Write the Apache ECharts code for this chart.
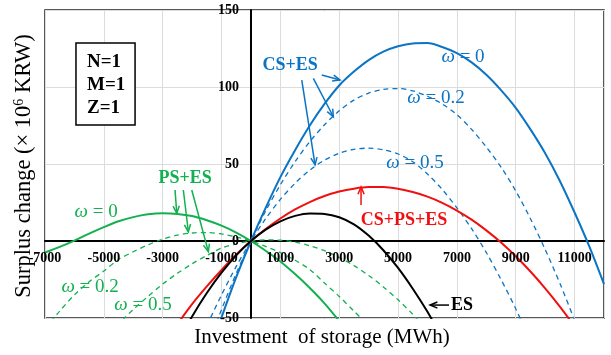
<!DOCTYPE html>
<html><head><meta charset="utf-8">
<script src="https://cdn.jsdelivr.net/npm/echarts@6.0.0/dist/echarts.min.js"></script>
<style>html,body{margin:0;padding:0;background:#fff}#c{width:611px;height:355px}</style>
</head><body><div id="c"></div>
<script>
// ---- axis ticks ----
const xTicks = [-7000,-5000,-3000,-1000,1000,3000,5000,7000,9000,11000];
const yTicks = [-50,0,50,100,150];
const xRange = [-7000, 12000];

// ---- CS+ES (blue) ----
const csEsW0X = [-1500,-1000,-500,0,500,1000,1500,2000,2500,3000,3500,4000,4500,5000,5500,6000,6500,7000,7500,8000,8500,9000,9500,10000,10500,11000,11500,12000];
const csEsW0Y = [-76,-49.5,-23.5,0,21.5,41.5,59,75,89,101,110,117.5,123,126.5,128.3,128.5,126,122,116,108,98,86.5,72.5,57,39,18.5,-3.5,-28];
const csEsW02X = [-1500,-1000,-500,0,500,1000,1500,2000,2500,3000,3500,4000,4500,5000,5500,6000,6500,7000,7500,8000,8500,9000,9500,10000,10500,11000,11500];
const csEsW02Y = [-69.5,-44.5,-21,0,19.5,36.5,51.5,64.5,75.5,84.5,91.5,96,98.5,99,97.5,94,89,82,72.5,61,48,32.5,14.5,-5.5,-27.5,-51.5,-77];
const csEsW05X = [-1500,-1000,-500,0,500,1000,1500,2000,2500,3000,3500,4000,4500,5000,5500,6000,6500,7000,7500,8000,8500,9000,9500];
const csEsW05Y = [-55,-35,-16.5,0,14.5,27,37.5,46,52.5,57,59.5,60.3,59.2,56.5,51.5,43.5,33.5,21.5,8,-7.5,-25,-44,-65];

// ---- CS+PS+ES (red) ----
const csPsEsX = [-2500,-2000,-1500,-1000,-500,0,500,1000,1500,2000,2500,3000,3500,4000,4500,5000,5500,6000,6500,7000,7500,8000,8500,9000,9500,10000,10500,11000];
const csPsEsY = [-54,-41,-29.5,-18.8,-8.8,0,7.8,14.6,20.5,25.3,29.2,32.1,34,35,35,33.9,31.8,28.8,24.8,19.8,13.9,6.9,-1,-9.9,-19.8,-30.7,-42.6,-55.4];

// ---- ES (black) ----
const esX = [-2500,-2000,-1500,-1000,-500,0,500,1000,1500,2000,2500,3000,3500,4000,4500,5000,5500,6000,6500];
const esY = [-66,-49,-33.8,-20.6,-9.3,0,7.4,12.8,16.3,17.9,17.6,15.4,10.8,3.5,-6,-17.5,-31,-46,-63];

// ---- PS+ES (green) ----
const psEsW0X = [-7000,-6500,-6000,-5500,-5000,-4500,-4000,-3500,-3000,-2500,-2000,-1500,-1000,-500,0,500,1000,1500,2000,2500,3000];
const psEsW0Y = [-7.5,-3.8,0.3,4.8,9,12.8,15.5,17.3,18,17.6,16.2,13.5,10,5.5,0,-6.3,-13.3,-21.5,-30.5,-40.5,-52];
const psEsW02X = [-7000,-6500,-6000,-5500,-5000,-4500,-4000,-3500,-3000,-2500,-2000,-1500,-1000,-500,0,500,1000,1500,2000,2500,3000,3500,4000];
const psEsW02Y = [-57,-45.5,-35,-26.5,-19.5,-12,-7,-2.5,1.2,3.8,5.2,5.5,4.6,2.6,0,-3.5,-7.5,-12.5,-18.5,-27.3,-36,-45.5,-55];
const psEsW05X = [-5000,-4500,-4000,-3500,-3000,-2500,-2000,-1500,-1000,-500,0,500,1000,1500,2000,2500,3000,3500,4000,4500,5000,5500,6000];
const psEsW05Y = [-64,-54,-44.5,-36,-28,-21,-14.8,-9.4,-4.6,-1.8,0,0.8,0.5,-0.7,-3.1,-6.3,-10.7,-16,-22.4,-29.8,-38.2,-47.6,-58];

// ---- annotation texts (data coordinates) ----
const annTexts = ['CS+ES','0','0.2','0.5','PS+ES','0','0.2','0.5','CS+PS+ES','ES'];
const annX = [1329,7209,6291,5577,-2240,-5263,-5467,-3667,5204,7172];
const annY = [114.3,119.5,92.9,50.6,40.9,18.8,-29.9,-41.6,13.6,-41.6];
// arrows (data coordinates): from -> to
const blueArrows = [[[2406,107.8],[3028,104.5]],[[2121,105.6],[2801,80.7]],[[1727,104.5],[2179,49.4]]];
const greenArrows = [[[-2580,33.1],[-2522,18]],[[-2298,33.1],[-2128,6.0]],[[-2012,33.1],[-1448,-6.9]]];
const redArrows = [[[3742,23.4],[3742,35.1]]];
const blackArrows = [[[6733,-41.6],[6087,-41.6]]];
const boxLines = ['N=1','M=1','Z=1'];

const BLUE = '#0b74c4', GREEN = '#12b04e', RED = '#f01010', BLACK = '#000';
const SERIF = '"Liberation Serif","Times New Roman",serif';

function zip(xs, ys){ return xs.map((x,i)=>[x, ys[i]]); }
function ln(name, xs, ys, color, dashed){
  return {
    type:'line', name, data: zip(xs, ys), smooth: 0.3, symbol:'none', showSymbol:false, clip:true,
    lineStyle:{color, width: dashed ? 1.3 : 2, type: dashed ? [5,4] : 'solid'},
    itemStyle:{color}, animation:false, z: 3
  };
}

const chart = echarts.init(document.getElementById('c'), null, {renderer:'canvas'});
chart.setOption({
  animation:false,
  grid:{left:45, right:7, top:10, bottom:37, show:true, borderColor:'#222', borderWidth:1.5, backgroundColor:'#fff'},
  xAxis:{
    type:'value', min:xRange[0], max:xRange[1], interval: xTicks[1]-xTicks[0],
    axisLine:{onZero:true, lineStyle:{color:'#000', width:2}},
    axisTick:{show:false},
    splitLine:{show:true, lineStyle:{color:'#dcdcdc', width:1}},
    axisLabel:{show:false}
  },
  yAxis:{
    type:'value', min:yTicks[0], max:yTicks[yTicks.length-1], interval: yTicks[1]-yTicks[0],
    axisLine:{onZero:true, lineStyle:{color:'#000', width:2}},
    axisTick:{show:false},
    splitLine:{show:true, lineStyle:{color:'#dcdcdc', width:1}},
    axisLabel:{show:false}
  },
  series:[
    ln('CS+ES ω=0', csEsW0X, csEsW0Y, BLUE, false),
    ln('CS+ES ω=0.2', csEsW02X, csEsW02Y, BLUE, true),
    ln('CS+ES ω=0.5', csEsW05X, csEsW05Y, BLUE, true),
    ln('PS+ES ω=0', psEsW0X, psEsW0Y, GREEN, false),
    ln('PS+ES ω=0.2', psEsW02X, psEsW02Y, GREEN, true),
    ln('PS+ES ω=0.5', psEsW05X, psEsW05Y, GREEN, true),
    ln('CS+PS+ES', csPsEsX, csPsEsY, RED, false),
    ln('ES', esX, esY, BLACK, false)
  ]
});

// ---- annotations positioned through the axes ----
const P = (x,y) => chart.convertToPixel({gridIndex:0}, [x,y]);
const graphics = [];
// tick labels on the zero-crossing axes
xTicks.forEach(v => {
  const p = P(v, 0);
  graphics.push({type:'text', x:p[0], y:p[1]+10, z:5, silent:true,
    style:{text:String(v), fill:'#000', fontFamily:SERIF, fontSize:14, fontWeight:'bold', align:'center', verticalAlign:'top'}});
});
yTicks.forEach(v => {
  const p = P(0, v);
  graphics.push({type:'text', x:p[0]-12, y:p[1], z:5, silent:true,
    style:{text:String(v), fill:'#000', fontFamily:SERIF, fontSize:14, fontWeight:'bold', align:'right', verticalAlign:'middle'}});
});
// arrows
function addArrows(list, color){
  list.forEach(a => {
    const p1 = P(a[0][0], a[0][1]), p2 = P(a[1][0], a[1][1]);
    const ang = Math.atan2(p2[1]-p1[1], p2[0]-p1[0]);
    const L = 8, w = 0.4;
    const h1 = [p2[0]-L*Math.cos(ang-w), p2[1]-L*Math.sin(ang-w)];
    const h2 = [p2[0]-L*Math.cos(ang+w), p2[1]-L*Math.sin(ang+w)];
    graphics.push({type:'line', z:8, silent:true, shape:{x1:p1[0], y1:p1[1], x2:p2[0], y2:p2[1]}, style:{stroke:color, lineWidth:1.5}});
    graphics.push({type:'polyline', z:8, silent:true, shape:{points:[h1, p2, h2]}, style:{stroke:color, lineWidth:1.5, fill:null}});
  });
}
addArrows(blueArrows, BLUE);
addArrows(greenArrows, GREEN);
addArrows(redArrows, RED);
addArrows(blackArrows, BLACK);

const colors = [BLUE,BLUE,BLUE,BLUE,GREEN,GREEN,GREEN,GREEN,RED,BLACK];
annTexts.forEach((t,i) => {
  const p = P(annX[i], annY[i]);
  const isOmega = t.indexOf('S') < 0;
  graphics.push({
    type:'text', x:p[0], y:p[1], z:10, silent:true,
    style: isOmega ? {
      text:'{w|ω} = ' + t, fill:colors[i], fontFamily:SERIF, fontSize:19,
      align:'center', verticalAlign:'middle',
      rich:{w:{fontStyle:'italic', fontFamily:SERIF, fontSize:19, fill:colors[i], color:colors[i]}}
    } : {
      text:t, fill:colors[i], fontFamily:SERIF, fontSize:18, fontWeight:'bold',
      align:'center', verticalAlign:'middle'
    }
  });
});
// info box
const b1 = P(-5947,128.6), b2 = P(-3939,75.3);
graphics.push({type:'rect', z:9, silent:true, shape:{x:b1[0], y:b1[1], width:b2[0]-b1[0], height:b2[1]-b1[1]},
  style:{fill:'#fff', stroke:'#000', lineWidth:1.5}});
const boxY = [116.2,101.3,86.4];
boxLines.forEach((t,i) => {
  const p = P(-5573, boxY[i]);
  graphics.push({type:'text', x:p[0], y:p[1], z:10, silent:true,
    style:{text:t, fill:'#000', fontFamily:SERIF, fontSize:19, fontWeight:'bold', align:'left', verticalAlign:'middle'}});
});
// axis titles
graphics.push({type:'text', x:322, y:337, z:10, silent:true,
  style:{text:'Investment  of storage (MWh)', fill:'#000', fontFamily:SERIF, fontSize:21, align:'center', verticalAlign:'middle'}});
graphics.push({type:'text', x:24, y:166, rotation:Math.PI/2, z:10, silent:true,
  style:{text:'Surplus change (× 10{s|6} KRW)', fill:'#000', fontFamily:SERIF, fontSize:22.5, align:'center', verticalAlign:'middle',
    rich:{s:{fontSize:14, fontFamily:SERIF, verticalAlign:'top', fill:'#000', color:'#000'}}}});
chart.setOption({graphic: graphics});
</script></body></html>
